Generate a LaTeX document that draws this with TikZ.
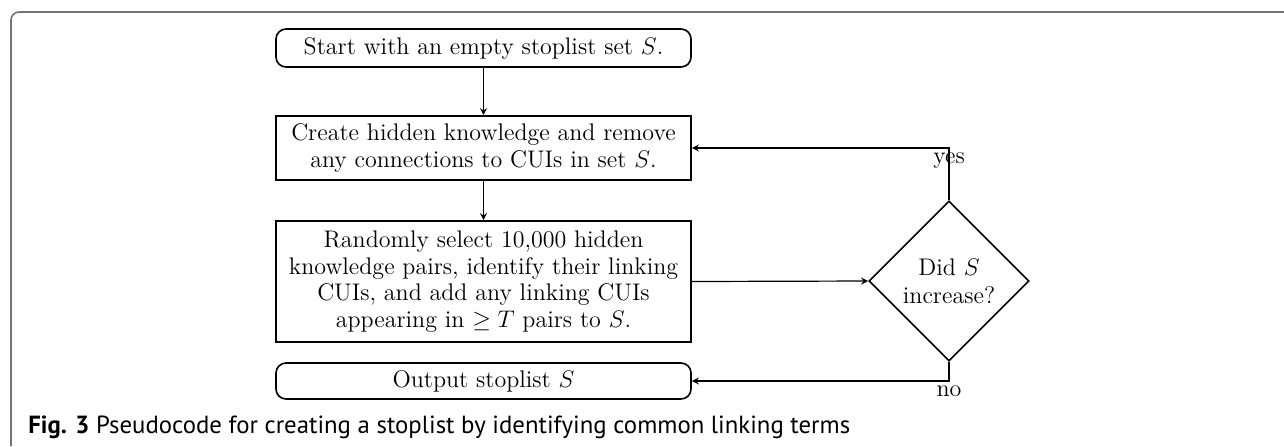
\documentclass[tikz,border=0pt]{standalone}
\usepackage{amsmath}
\usepackage{fontspec}
\newfontfamily\capfont{PT Sans}
\usetikzlibrary{arrows, arrows.meta}
\usetikzlibrary{positioning}
\usetikzlibrary{shapes.geometric}

\tikzset{
  stepbox/.style={draw, line width=0.8pt, minimum width=207.5pt, inner sep=0pt, align=center,
    font=\fontsize{12}{13.3}\selectfont},
  termbox/.style={stepbox, rounded corners=5pt},
  decide/.style={draw, diamond, line width=0.8pt, aspect=1, minimum width=80pt, minimum height=80pt,
    inner sep=0pt, align=center, font=\fontsize{12}{14}\selectfont},
  flow/.style={->, >=stealth, line width=0.6pt}
}

\begin{document}
\begin{tikzpicture}[x=0.5pt, y=-0.5pt]
				\useasboundingbox (0,0) rectangle (1284,446);
				% draw frame
				\draw[gray!90!black, line width=0.8pt, rounded corners=4pt] (11,446) -- (11,12) -- (1284,12);
				% draw boxes
				\node[termbox, minimum height=19pt] (start) at (483.5,48) {Start with an empty stoplist set $S$.};
				\node[stepbox, minimum height=32pt] (create) at (483.5,148) {Create hidden knowledge and remove\\ any connections to CUIs in set $S$.};
				\node[stepbox, minimum height=60.5pt] (select) at (483.5,281.5) {Randomly select 10,000 hidden\\ knowledge pairs, identify their linking\\ CUIs, and add any linking CUIs\\ appearing in $\geq T$ pairs to $S$.};
				\node[termbox, minimum height=18pt] (out) at (483.5,381) {Output stoplist $S$};
				% draw decision
				\node[decide] (dec) at (949,281) {Did $S$\\ increase?};
				
				\draw[flow] (start) -- (create);
				\draw[flow] (create) -- (select);
				\draw[flow] (select.east) -- (dec.west);
				\draw[flow] (dec.north) |- (create.east) node[pos=0.5, below=-1pt, font=\fontsize{12}{13}\selectfont] (yes) {yes};
				\draw[flow] (dec.south) |- (out.east) node[pos=0.5, below=-1pt, font=\fontsize{12}{13}\selectfont] (no) {no};
				% caption
				\node[anchor=base west, inner sep=0pt, font=\capfont\fontsize{12.4}{14}\selectfont] (cap) at (28,433) {\textbf{Fig. 3} Pseudocode for creating a stoplist by identifying common linking terms};
			\end{tikzpicture}
\end{document}
